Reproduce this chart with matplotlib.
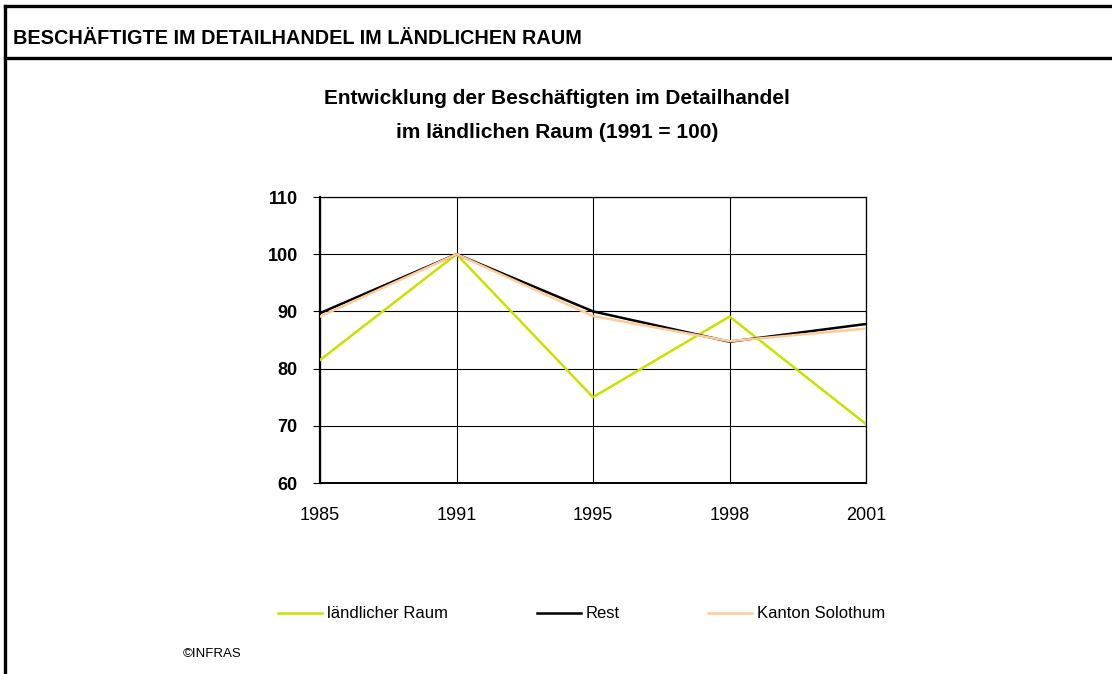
import matplotlib
matplotlib.use("Agg")
import matplotlib.pyplot as plt
from matplotlib.lines import Line2D

# data (index, 1991 = 100)
years = ["1985", "1991", "1995", "1998", "2001"]
laendlich = [81.5, 100, 75.0, 89.1, 70.3]
rest = [89.7, 100, 90.0, 84.7, 87.8]
kanton = [89.1, 100, 89.2, 84.8, 87.0]
series_names = ["ländlicher Raum", "Rest", "Kanton Solothum"]
y_ticks = [60, 70, 80, 90, 100, 110]

W, H = 1112, 674
arial = ["Liberation Sans", "DejaVu Sans"]

fig = plt.figure(figsize=(W / 100, H / 100), dpi=100)
fig.patch.set_facecolor("white")

# frame around the page: top line, header line, left edge
for y in (6, 58):
    fig.add_artist(Line2D([5 / W, 1], [1 - y / H, 1 - y / H],
                          transform=fig.transFigure, color="black", lw=2.4))
fig.add_artist(Line2D([5 / W, 5 / W], [1 - 6 / H, 0],
                      transform=fig.transFigure, color="black", lw=2.4))

# no narrow font installed, so a smaller size keeps the header width
fig.text(13 / W, 1 - 38 / H, "BESCHÄFTIGTE IM DETAILHANDEL IM LÄNDLICHEN RAUM",
         family=arial, fontweight="bold", fontsize=14.3, va="center", ha="left")

fig.text(557 / W, 1 - 99 / H, "Entwicklung der Beschäftigten im Detailhandel",
         family=arial, fontweight="bold", fontsize=15, ha="center", va="center")
fig.text(557 / W, 1 - 133 / H, "im ländlichen Raum (1991 = 100)",
         family=arial, fontweight="bold", fontsize=15, ha="center", va="center")

ax = fig.add_axes([320 / W, 1 - 483 / H, 546 / W, 286 / H])
ax.plot(years, laendlich, color="#CCE000", lw=1.8, label=series_names[0], zorder=3)
ax.plot(years, rest, color="black", lw=1.8, label=series_names[1], zorder=3)
ax.plot(years, kanton, color="#FFCC99", lw=1.8, label=series_names[2], zorder=3)

ax.set_xlim(0, len(years) - 1)
ax.set_ylim(60, 110)
ax.set_yticks(y_ticks)
ax.grid(True, color="black", lw=0.8)
ax.tick_params(axis="y", length=5, width=0.8, direction="out", pad=11)
ax.tick_params(axis="x", length=0, pad=17)
for lab in ax.get_yticklabels():
    lab.set_family(arial)
    lab.set_fontweight("bold")
    lab.set_fontsize(13)
for lab in ax.get_xticklabels():
    lab.set_family(arial)
    lab.set_fontsize(13)
for side, lw in (("left", 1.6), ("bottom", 1.4), ("top", 0.9), ("right", 0.9)):
    ax.spines[side].set_linewidth(lw)
    ax.spines[side].set_color("black")

handles, labels = ax.get_legend_handles_labels()
fig.legend(handles, labels, loc="center left", ncol=3, frameon=False,
           bbox_to_anchor=(278 / W, 1 - 614 / H), borderpad=0, borderaxespad=0,
           handlelength=2.65, handletextpad=0.3, columnspacing=5.3,
           prop={"family": arial, "size": 12})

fig.text(183 / W, 1 - 654 / H, "©INFRAS", family=arial, fontsize=9.5,
         ha="left", va="center")

fig.savefig("out.png", dpi=100)
